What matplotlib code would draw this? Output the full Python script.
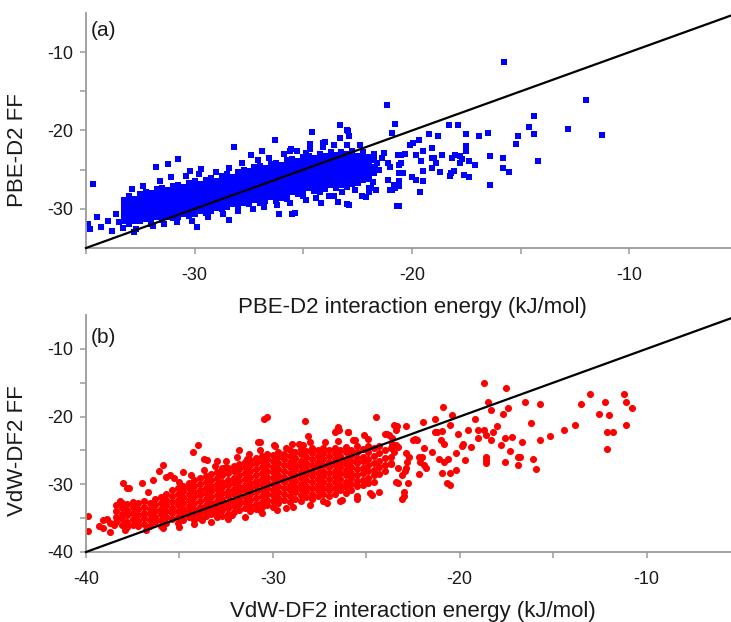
import matplotlib
matplotlib.use("Agg")
import matplotlib.pyplot as plt
from matplotlib.ticker import FixedLocator

plt.rcParams['font.family'] = ['Liberation Sans', 'DejaVu Sans']
plt.rcParams['axes.unicode_minus'] = False

# ---------------- Panel (a): PBE-D2 ----------------
a_xlim = (-35, -5)
a_ylim = (-35, -5)
a_major = [-30, -20, -10]
a_minor = [-35, -25, -15]
a_xlabel = "PBE-D2 interaction energy (kJ/mol)"
a_ylabel = "PBE-D2 FF"

# dense core, read column by column: (x, [y values])
a_core_left = [
    (-33.25, [-28.9, -29.6, -30.3, -31.0, -31.6]),
    (-33.00, [-28.4, -29.1, -29.8, -30.5, -31.2, -31.9]),
    (-32.75, [-28.7, -29.4, -30.1, -30.8, -31.5]),
    (-32.50, [-28.1, -28.8, -29.5, -30.2, -30.9, -31.6]),
    (-32.25, [-27.8, -28.5, -29.2, -29.9, -30.6, -31.3]),
    (-32.00, [-28.0, -28.7, -29.4, -30.1, -30.8, -31.5]),
    (-31.75, [-27.5, -28.2, -28.9, -29.6, -30.3, -31.0]),
    (-31.50, [-27.3, -28.0, -28.7, -29.4, -30.1, -30.8, -31.4]),
    (-31.25, [-27.6, -28.3, -29.0, -29.7, -30.4, -31.1]),
    (-31.00, [-27.1, -27.8, -28.5, -29.2, -29.9, -30.6, -31.2]),
    (-30.75, [-26.9, -27.6, -28.3, -29.0, -29.7, -30.4, -31.0]),
    (-30.50, [-27.2, -27.9, -28.6, -29.3, -30.0, -30.7]),
    (-30.25, [-26.7, -27.4, -28.1, -28.8, -29.5, -30.2, -30.9]),
    (-30.00, [-26.5, -27.2, -27.9, -28.6, -29.3, -30.0, -30.7]),
    (-29.75, [-26.8, -27.5, -28.2, -28.9, -29.6, -30.3]),
    (-29.50, [-26.3, -27.0, -27.7, -28.4, -29.1, -29.8, -30.5]),
]
a_core_mid = [
    (-29.25, [-26.1, -26.8, -27.5, -28.2, -28.9, -29.6, -30.3]),
    (-29.00, [-26.4, -27.1, -27.8, -28.5, -29.2, -29.9]),
    (-28.75, [-25.8, -26.5, -27.2, -27.9, -28.6, -29.3, -30.0]),
    (-28.50, [-25.6, -26.3, -27.0, -27.7, -28.4, -29.1, -29.8]),
    (-28.25, [-25.9, -26.6, -27.3, -28.0, -28.7, -29.4]),
    (-28.00, [-25.3, -26.0, -26.7, -27.4, -28.1, -28.8, -29.5]),
    (-27.75, [-25.0, -25.7, -26.4, -27.1, -27.8, -28.5, -29.2]),
    (-27.50, [-25.2, -25.9, -26.6, -27.3, -28.0, -28.7, -29.4]),
    (-27.25, [-24.7, -25.4, -26.1, -26.8, -27.5, -28.2, -28.9]),
    (-27.00, [-24.5, -25.2, -25.9, -26.6, -27.3, -28.0, -28.7, -29.3]),
    (-26.75, [-24.8, -25.5, -26.2, -26.9, -27.6, -28.3, -29.0]),
    (-26.50, [-24.3, -25.0, -25.7, -26.4, -27.1, -27.8, -28.5]),
    (-26.25, [-24.1, -24.8, -25.5, -26.2, -26.9, -27.6, -28.3, -29.0]),
    (-26.00, [-24.4, -25.1, -25.8, -26.5, -27.2, -27.9, -28.6]),
    (-25.75, [-23.8, -24.5, -25.2, -25.9, -26.6, -27.3, -28.0, -28.7]),
    (-25.50, [-23.6, -24.3, -25.0, -25.7, -26.4, -27.1, -27.8]),
]
a_core_right = [
    (-25.25, [-23.9, -24.6, -25.3, -26.0, -26.7, -27.4, -28.1]),
    (-25.00, [-23.4, -24.1, -24.8, -25.5, -26.2, -26.9, -27.6, -28.3]),
    (-24.75, [-23.2, -23.9, -24.6, -25.3, -26.0, -26.7, -27.4]),
    (-24.50, [-23.5, -24.2, -24.9, -25.6, -26.3, -27.0, -27.7]),
    (-24.25, [-23.0, -23.7, -24.4, -25.1, -25.8, -26.5, -27.2, -27.9]),
    (-24.00, [-23.3, -24.0, -24.7, -25.4, -26.1, -26.8, -27.5]),
    (-23.75, [-22.8, -23.5, -24.2, -24.9, -25.6, -26.3, -27.0]),
    (-23.50, [-23.1, -23.8, -24.5, -25.2, -25.9, -26.6, -27.3]),
    (-23.25, [-22.7, -23.4, -24.1, -24.8, -25.5, -26.2, -26.9]),
    (-23.00, [-23.0, -23.7, -24.4, -25.1, -25.8, -26.5, -27.2]),
    (-22.75, [-22.6, -23.3, -24.0, -24.7, -25.4, -26.1, -26.8]),
    (-22.50, [-23.2, -23.9, -24.6, -25.3, -26.0, -26.7]),
    (-22.25, [-22.8, -23.5, -24.2, -24.9, -25.6, -26.3]),
    (-22.00, [-23.4, -24.1, -24.8, -25.5, -26.2]),
    (-21.75, [-23.0, -23.8, -24.6, -25.4]),
]
# individual points around the core and the sparse tail
a_pts_x = [
    -32.9, -32.4, -31.6, -31.1, -30.4, -29.8, -29.0, -28.4, -27.8, -27.1, -26.6, -25.9,
    -25.3, -24.7, -24.1, -23.6, -23.0, -22.4,
    -32.7, -31.9, -31.4, -30.8, -30.1, -29.4, -28.7, -28.0, -27.3, -26.8, -26.2, -25.6,
    -24.9, -24.4, -23.8, -23.2, -22.6, -22.0,
    -34.9, -34.8, -34.7, -34.5, -34.3, -34.0, -33.8, -33.6, -33.5, -33.3, -33.0, -32.8,
    -32.6, -32.3, -32.0,
    -31.76, -31.25, -30.77, -30.2, -29.7, -28.2, -26.3, -24.6, -23.3, -23.0, -24.0, -24.7,
    -25.6, -26.9, -27.4, -25.4, -28.4, -29.9, -23.4, -23.0, -24.2,
    -15.75, -12.0, -21.16, -20.8, -20.9, -18.3, -17.9, -14.4, -14.6, -14.4, -12.8, -11.25,
    -15.1, -15.2, -14.2, -15.8, -15.8, -15.55, -16.4, -16.5, -16.4, -16.9, -17.5, -17.5,
    -17.5, -17.8, -17.7, -17.4, -17.1, -17.6, -17.4, -18.0, -17.8, -18.2, -18.05, -18.7,
    -18.6, -18.8, -19.2, -19.1, -19.1, -18.9, -19.1, -19.5, -19.6, -19.5, -19.5, -19.65,
    -19.7, -19.95, -20.1, -19.8, -20.0, -19.8, -20.3, -20.5, -20.6, -20.6, -20.6, -20.6,
    -20.6, -21.0, -20.8, -21.1, -21.1, -21.0, -21.3, -21.4, -21.6, -21.7, -21.5, -21.9,
    -22.0, -21.8,
    -22.95, -22.9, -24.1, -23.3, -25.55, -24.9, -26.1, -25.5, -22.9, -23.6, -22.3, -22.1,
    -21.65, -20.9, -20.7,
    -18.15, -18.25, -20.4, -20.65, -20.5, -20.85, -19.0, -21.0,
]
a_pts_y = [
    -27.5, -27.1, -26.4, -26.0, -25.8, -25.5, -25.3, -24.8, -24.2, -23.8, -23.5, -23.0,
    -22.6, -22.4, -22.1, -21.9, -21.8, -21.9,
    -32.6, -32.2, -31.9, -31.7, -31.5, -31.1, -30.7, -30.3, -30.0, -29.8, -29.5, -29.2,
    -28.9, -28.6, -28.3, -27.9, -27.6, -27.3,
    -32.0, -32.6, -26.8, -31.0, -32.3, -31.5, -32.8, -30.6, -31.7, -32.4, -30.7, -32.9,
    -30.2, -29.5, -32.0,
    -24.7, -24.3, -23.6, -25.2, -24.9, -22.1, -21.2, -20.2, -19.3, -20.0, -21.5, -21.7,
    -22.65, -22.65, -23.1, -30.5, -31.4, -32.3, -29.1, -29.4, -29.3,
    -11.24, -16.1, -16.7, -19.2, -20.3, -19.3, -19.3, -18.1, -19.6, -20.5, -19.8, -20.6,
    -20.7, -21.7, -23.9, -23.5, -24.8, -25.3, -26.9, -20.3, -23.2, -20.7, -20.4, -22.0,
    -22.6, -24.1, -23.6, -23.9, -24.4, -25.7, -25.9, -23.1, -23.3, -25.4, -25.2, -25.3,
    -23.1, -20.7, -20.4, -22.2, -23.5, -24.1, -24.8, -22.65, -23.9, -25.2, -26.5, -27.9,
    -21.2, -21.6, -21.8, -23.1, -25.9, -26.3, -23.0, -23.1, -24.4, -25.4, -26.5, -27.1,
    -29.7, -27.6, -27.3, -26.3, -24.1, -24.6, -22.9, -23.5, -24.1, -24.8, -25.0, -27.3,
    -27.8, -26.6,
    -20.1, -20.7, -21.6, -20.9, -22.4, -22.85, -30.6, -30.6, -29.5, -28.3, -28.4, -28.5,
    -27.6, -27.6, -29.7,
    -23.5, -25.8, -25.4, -23.1, -24.1, -26.9, -23.5, -27.6,
]

# ---------------- Panel (b): VdW-DF2 ----------------
b_xlim = (-40, -5)
b_ylim = (-40, -5)
b_major = [-40, -30, -20, -10]
b_minor = [-35, -25, -15]
b_xlabel = "VdW-DF2 interaction energy (kJ/mol)"
b_ylabel = "VdW-DF2 FF"

b_core_left = [
    (-38.4, [-33.1, -33.9, -34.8, -35.6]),
    (-38.1, [-32.7, -33.5, -34.4, -35.2, -36.0]),
    (-37.8, [-32.9, -33.8, -34.6, -35.5, -36.3]),
    (-37.5, [-32.6, -33.4, -34.3, -35.1, -36.0]),
    (-37.2, [-32.8, -33.7, -34.5, -35.4, -36.2]),
    (-36.9, [-32.5, -33.3, -34.2, -35.0, -35.9]),
    (-36.6, [-32.7, -33.6, -34.4, -35.3, -36.1]),
    (-36.3, [-32.2, -33.1, -33.9, -34.8, -35.6]),
    (-36.0, [-31.9, -32.7, -33.6, -34.4, -35.3, -36.1]),
    (-35.7, [-31.4, -32.3, -33.1, -34.0, -34.8, -35.7]),
    (-35.4, [-30.9, -31.8, -32.6, -33.5, -34.3, -35.2]),
    (-35.1, [-30.6, -31.4, -32.3, -33.1, -34.0, -34.8, -35.7]),
    (-34.8, [-30.2, -31.0, -31.9, -32.7, -33.6, -34.4, -35.3]),
    (-34.5, [-29.8, -30.6, -31.5, -32.3, -33.2, -34.0, -34.9]),
    (-34.2, [-29.4, -30.2, -31.1, -31.9, -32.8, -33.6, -34.5, -35.3]),
    (-33.9, [-29.1, -29.9, -30.8, -31.6, -32.5, -33.3, -34.2, -35.0]),
    (-33.6, [-28.8, -29.6, -30.5, -31.3, -32.2, -33.0, -33.9, -34.7]),
]
b_core_mid = [
    (-33.3, [-28.5, -29.3, -30.2, -31.0, -31.9, -32.7, -33.6, -34.4]),
    (-33.0, [-28.2, -29.0, -29.9, -30.7, -31.6, -32.4, -33.3, -34.1, -34.9]),
    (-32.7, [-27.9, -28.7, -29.6, -30.4, -31.3, -32.1, -33.0, -33.8, -34.7]),
    (-32.4, [-27.6, -28.4, -29.3, -30.1, -31.0, -31.8, -32.7, -33.5, -34.4]),
    (-32.1, [-27.3, -28.1, -29.0, -29.8, -30.7, -31.5, -32.4, -33.2, -34.1]),
    (-31.8, [-27.0, -27.8, -28.7, -29.5, -30.4, -31.2, -32.1, -32.9, -33.8]),
    (-31.5, [-26.7, -27.5, -28.4, -29.2, -30.1, -30.9, -31.8, -32.6, -33.5]),
    (-31.2, [-26.4, -27.2, -28.1, -28.9, -29.8, -30.6, -31.5, -32.3, -33.2, -34.0]),
    (-30.9, [-26.1, -26.9, -27.8, -28.6, -29.5, -30.3, -31.2, -32.0, -32.9, -33.7]),
    (-30.6, [-25.8, -26.6, -27.5, -28.3, -29.2, -30.0, -30.9, -31.7, -32.6, -33.4]),
    (-30.3, [-25.5, -26.3, -27.2, -28.0, -28.9, -29.7, -30.6, -31.4, -32.3, -33.1]),
    (-30.0, [-25.7, -26.5, -27.4, -28.2, -29.1, -29.9, -30.8, -31.6, -32.5, -33.3]),
    (-29.7, [-25.2, -26.0, -26.9, -27.7, -28.6, -29.4, -30.3, -31.1, -32.0, -32.8]),
    (-29.4, [-25.5, -26.3, -27.2, -28.0, -28.9, -29.7, -30.6, -31.4, -32.3]),
    (-29.1, [-25.0, -25.8, -26.7, -27.5, -28.4, -29.2, -30.1, -30.9, -31.8, -32.6]),
    (-28.8, [-25.3, -26.1, -27.0, -27.8, -28.7, -29.5, -30.4, -31.2, -32.1]),
]
b_core_right = [
    (-28.5, [-24.8, -25.6, -26.5, -27.3, -28.2, -29.0, -29.9, -30.7, -31.6, -32.4]),
    (-28.2, [-25.1, -25.9, -26.8, -27.6, -28.5, -29.3, -30.2, -31.0, -31.9]),
    (-27.9, [-24.6, -25.4, -26.3, -27.1, -28.0, -28.8, -29.7, -30.5, -31.4, -32.2]),
    (-27.6, [-25.0, -25.8, -26.7, -27.5, -28.4, -29.2, -30.1, -30.9, -31.8]),
    (-27.3, [-24.6, -25.4, -26.3, -27.1, -28.0, -28.8, -29.7, -30.5, -31.4]),
    (-27.0, [-25.0, -25.8, -26.7, -27.5, -28.4, -29.2, -30.1, -30.9, -31.8]),
    (-26.7, [-24.6, -25.4, -26.3, -27.1, -28.0, -28.8, -29.7, -30.5, -31.4]),
    (-26.4, [-25.0, -25.8, -26.7, -27.5, -28.4, -29.2, -30.1, -30.9]),
    (-26.1, [-24.5, -25.3, -26.2, -27.0, -27.9, -28.7, -29.6, -30.4, -31.3]),
    (-25.8, [-24.9, -25.7, -26.6, -27.4, -28.3, -29.1, -30.0, -30.8]),
    (-25.5, [-24.4, -25.2, -26.1, -26.9, -27.8, -28.6, -29.5, -30.3]),
    (-25.2, [-24.8, -25.9, -26.6, -27.6, -28.3, -29.3, -30.1]),
    (-24.9, [-24.3, -25.2, -26.3, -27.1, -28.0, -29.0, -29.8]),
    (-24.6, [-24.7, -25.8, -26.8, -27.9, -28.7, -29.6]),
    (-24.3, [-24.4, -25.4, -26.5, -27.4, -28.5]),
    (-24.0, [-25.0, -26.1, -27.2, -28.1]),
    (-23.7, [-24.6, -25.9, -27.0]),
]
b_pts_x = [
    -35.0, -34.4, -33.7, -33.1, -32.5, -31.9, -31.3, -30.7, -29.9, -29.0, -28.0, -27.2,
    -26.5, -25.7, -24.9,
    -37.9, -36.8, -35.9, -35.0, -34.2, -33.3, -32.4, -31.5, -30.6, -29.8, -28.9, -28.0,
    -27.1, -26.3, -25.5, -24.8,
    -39.9, -39.9, -39.3, -39.07, -38.9, -38.7, -38.5, -38.0, -38.2, -37.8, -37.0, -36.7,
    -36.4, -35.9, -35.5, -34.8, -34.3, -34.0, -33.5, -33.0, -31.8, -31.4, -30.8, -30.5,
    -30.3, -29.95, -29.3, -28.3, -28.1, -28.4, -26.45, -25.97, -26.6,
    -39.1, -38.7, -37.7, -36.1, -35.3, -35.7, -33.7, -32.7, -32.5, -32.2, -33.8,
    -24.5, -26.5, -26.0, -26.7, -25.6, -25.1, -23.9, -23.8, -30.7, -28.6, -30.7, -29.3,
    -27.3, -26.4, -25.5, -24.7, -24.3, -23.4,
    -18.7, -17.54, -18.5, -18.3, -16.5, -15.7, -17.4, -17.7, -13.05, -13.5, -12.25, -12.55,
    -12.0, -11.2, -11.1, -10.8, -11.1, -12.1, -11.8, -12.1, -13.85, -14.4, -15.15, -15.7,
    -16.2, -16.65, -16.1, -15.9, -16.9, -16.8, -16.9, -17.3, -17.2, -17.6, -17.6, -17.8,
    -18.0, -18.2, -18.3, -18.6, -18.7, -18.6, -18.6, -18.6, -19.0, -19.0, -19.2, -19.55,
    -19.4, -19.7, -19.8, -19.9, -20.1, -20.2, -20.2, -20.5, -20.7, -20.5, -20.4, -20.5,
    -20.9, -20.95, -21.2, -21.3, -21.0, -20.85, -21.1, -20.65, -20.85, -20.95, -21.3, -21.5,
    -21.95, -21.9, -22.0, -22.1, -21.9, -22.3, -22.4, -22.7, -22.8, -22.85, -22.95, -22.85,
    -23.3, -23.0, -23.0, -23.5, -23.4, -22.85, -23.6, -23.3, -23.5, -23.7, -23.3, -23.1,
    -22.5, -22.2, -22.76, -22.2, -21.8,
    -24.0, -23.6, -23.4, -23.35, -23.1,
]
b_pts_y = [
    -29.6, -28.7, -27.9, -27.3, -26.6, -26.0, -25.6, -25.0, -24.4, -24.1, -23.8, -23.7,
    -23.6, -23.5, -23.3,
    -36.8, -36.7, -36.5, -36.3, -35.9, -35.6, -35.2, -34.8, -34.3, -33.8, -33.4, -33.0,
    -32.7, -32.3, -31.8, -31.3,
    -34.75, -36.9, -36.2, -36.5, -35.2, -37.0, -36.0, -29.85, -32.5, -30.6, -29.85, -31.1,
    -29.4, -27.1, -28.6, -28.2, -25.2, -24.2, -26.4, -26.6, -25.0, -26.2, -23.8, -20.3,
    -20.05, -24.2, -24.7, -20.6, -22.8, -24.2, -22.0, -22.35, -22.2,
    -35.25, -35.7, -30.6, -28.1, -29.1, -28.9, -26.2, -27.6, -27.4, -34.5, -35.25,
    -20.1, -21.5, -22.25, -22.25, -23.5, -22.75, -22.5, -22.75, -23.7, -24.0, -33.8, -33.5,
    -32.5, -32.5, -32.1, -31.6, -31.1, -29.6,
    -15.0, -15.8, -17.8, -19.1, -17.8, -18.1, -18.8, -19.6, -16.6, -18.1, -17.8, -19.6,
    -19.7, -16.6, -17.8, -18.7, -21.2, -22.25, -22.25, -24.8, -21.2, -22.0, -22.9, -23.4,
    -21.0, -23.8, -26.3, -27.8, -25.9, -25.9, -27.2, -25.1, -23.0, -23.2, -26.7, -24.2,
    -21.4, -22.25, -23.5, -22.75, -22.0, -25.9, -26.4, -26.9, -23.2, -22.0, -20.3, -22.0,
    -24.45, -26.4, -24.0, -24.3, -22.5, -25.4, -27.9, -28.4, -29.85, -30.1, -19.8, -21.2,
    -18.6, -22.2, -22.25, -22.25, -23.5, -24.0, -26.2, -26.2, -26.7, -28.4, -20.3, -25.2,
    -20.8, -24.7, -25.9, -26.7, -27.2, -23.5, -23.3, -25.9, -26.7, -27.6, -28.1, -25.4,
    -29.85, -31.1, -31.8, -21.3, -22.0, -21.4, -24.0, -24.45, -25.2, -26.9, -27.6, -28.6,
    -23.5, -25.9, -29.85, -28.5, -27.6,
    -22.5, -23.2, -24.2, -21.4, -32.1,
]


def expand(cols):
    xs, ys = [], []
    for x, yl in cols:
        for y in yl:
            xs.append(x)
            ys.append(y)
    return xs, ys


def style_axes(ax, xlim, ylim, xmaj, xmin, ymaj, ymin, xlabel, ylabel, tag, tag_y,
               ylab_x, ylab_y):
    ax.set_xlim(*xlim)
    ax.set_ylim(*ylim)
    ax.patch.set_visible(False)
    ax.xaxis.set_major_locator(FixedLocator(xmaj))
    ax.xaxis.set_minor_locator(FixedLocator(xmin))
    ax.yaxis.set_major_locator(FixedLocator(ymaj))
    ax.yaxis.set_minor_locator(FixedLocator(ymin))
    for s in ("top", "right"):
        ax.spines[s].set_visible(False)
    for s in ("left", "bottom"):
        ax.spines[s].set_color("#9a9a9a")
        ax.spines[s].set_linewidth(1.3)
    ax.tick_params(which="both", direction="out", length=4.5, width=1.1,
                   color="#9a9a9a", labelsize=13, labelcolor="#1a1a1a")
    ax.tick_params(axis="x", which="both", pad=9.5)
    ax.tick_params(axis="y", which="both", pad=5)
    ax.set_xlabel(xlabel, fontsize=16, color="#1a1a1a", labelpad=9)
    ax.set_ylabel(ylabel, fontsize=16, color="#1a1a1a")
    ax.yaxis.set_label_coords(ylab_x, ylab_y)
    ax.text(0.008, tag_y, tag, transform=ax.transAxes, fontsize=15,
            va="top", ha="left", color="#1a1a1a")


fig = plt.figure(figsize=(7.31, 6.22), dpi=100)
ax_a = fig.add_axes([86 / 731, 1 - 248 / 622, 652 / 731, 235 / 622])
ax_b = fig.add_axes([86 / 731, 1 - 552 / 622, 654 / 731, 237 / 622])

# panel (a)
for cols in (a_core_left, a_core_mid, a_core_right):
    cx, cy = expand(cols)
    ax_a.scatter(cx, cy, s=17, marker="s", color="#0000ff", linewidths=0, zorder=2)
ax_a.scatter(a_pts_x, a_pts_y, s=17, marker="s", color="#0000ff", linewidths=0, zorder=2)
ax_a.plot([a_xlim[0], a_xlim[1]], [a_ylim[0], a_ylim[1]], color="black", lw=1.6, zorder=3,
          clip_on=False)
style_axes(ax_a, a_xlim, a_ylim, a_major, a_minor, a_major, a_minor[1:],
           a_xlabel, a_ylabel, "(a)", 0.965, -0.089, 0.417)

# panel (b)
for cols in (b_core_left, b_core_mid, b_core_right):
    cx, cy = expand(cols)
    ax_b.scatter(cx, cy, s=26, marker="o", color="#ff0000", linewidths=0, zorder=2)
ax_b.scatter(b_pts_x, b_pts_y, s=26, marker="o", color="#ff0000", linewidths=0, zorder=2)
ax_b.plot([b_xlim[0], b_xlim[1]], [b_ylim[0], b_ylim[1]], color="black", lw=1.6, zorder=3,
          clip_on=False)
style_axes(ax_b, b_xlim, b_ylim, b_major, b_minor, b_major, b_minor,
           b_xlabel, b_ylabel, "(b)", 0.945, -0.0887, 0.426)

fig.savefig("out.png", dpi=100)
